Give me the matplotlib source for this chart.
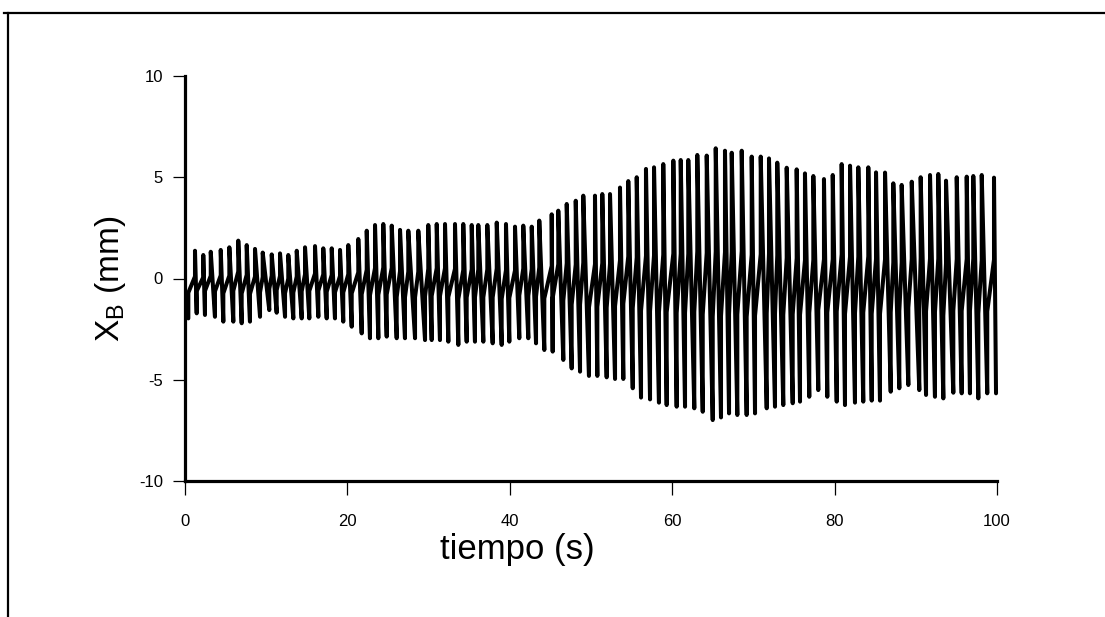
import numpy as np
import matplotlib
matplotlib.use("Agg")
import matplotlib.pyplot as plt
from matplotlib.lines import Line2D

plt.rcParams['font.family'] = ['Liberation Sans', 'DejaVu Sans']
plt.rcParams['mathtext.default'] = 'regular'

# ---- data (time in s, X_B in mm) ----
# local maxima of the trace
t_top = [1.23, 2.25, 3.17, 4.40, 5.46, 6.56, 7.60, 8.62, 9.57, 10.68,
         11.70, 12.72, 13.76, 14.78, 16.01, 17.03, 18.07, 19.09, 20.11, 21.34,
         22.38, 23.40, 24.42, 25.46, 26.48, 27.50, 28.73, 29.96, 31.00, 32.02,
         33.25, 34.27, 35.31, 36.12, 37.23, 38.39, 39.53, 40.64, 41.66, 42.70,
         43.63, 45.16, 45.97, 47.01, 48.12, 49.05, 50.49, 51.39, 52.34, 53.57,
         54.59, 55.63, 56.77, 57.76, 58.90, 60.14, 61.05, 61.98, 63.09, 64.25,
         65.36, 66.50,
         67.33, 68.56, 69.79, 70.90, 71.92, 72.94, 74.10, 75.33, 76.35, 77.38,
         78.69, 79.77, 80.87, 81.90, 82.92, 84.15, 85.10, 86.21, 87.23, 88.26,
         89.50, 90.60, 91.75, 92.77, 93.72, 95.04, 96.27, 97.08, 98.12, 99.63]
x_top = [1.37, 1.16, 1.32, 1.41, 1.54, 1.87, 1.65, 1.46, 1.28, 1.19,
         1.24, 1.16, 1.37, 1.54, 1.60, 1.49, 1.49, 1.41, 1.65, 1.95,
         2.36, 2.64, 2.69, 2.61, 2.40, 2.36, 2.36, 2.64, 2.69, 2.69,
         2.69, 2.69, 2.64, 2.64, 2.64, 2.76, 2.69, 2.56, 2.61, 2.56,
         2.86, 3.17, 3.35, 3.68, 3.84, 4.09, 4.09, 4.17, 4.17, 4.49,
         4.81, 5.00, 5.41, 5.49, 5.65, 5.82, 5.85, 5.85, 6.10, 6.07,
         6.43, 6.31,
         6.21, 6.31, 6.02, 6.02, 5.93, 5.72, 5.47, 5.39, 5.19, 5.06,
         4.91, 5.11, 5.65, 5.57, 5.49, 5.49, 5.24, 5.23, 4.70, 4.62,
         4.78, 5.00, 5.11, 5.16, 4.83, 5.00, 5.03, 5.06, 5.11, 4.98]
# local minima of the trace
t_bot = [0.41, 1.44, 2.46, 3.69, 4.72, 5.95, 6.98, 8.00, 9.24, 10.38,
         11.29, 12.32, 13.34, 14.37, 15.31, 16.42, 17.45, 18.47, 19.49, 20.53,
         21.76, 22.78, 23.81, 24.84, 26.07, 27.09, 28.33, 29.56, 30.38, 31.40,
         32.43,
         33.66, 34.69, 35.71, 36.74, 37.89, 39.00, 39.94, 41.17, 42.28, 43.23,
         44.25, 45.28, 46.59, 47.62, 48.65, 49.75, 50.78, 51.93, 52.96, 53.98,
         55.14, 56.16, 57.27, 58.37, 59.32, 60.55, 61.58, 62.72, 63.76, 64.99,
         66.01, 67.00,
         68.02, 69.17, 70.20, 71.64, 72.66, 73.68, 74.84, 75.74, 76.88, 77.99,
         79.10, 80.26, 81.28, 82.51, 83.53, 84.57, 85.59, 86.91, 87.97, 89.08,
         90.43, 91.26, 92.36, 93.39, 94.62, 95.65, 96.67, 97.70, 98.80, 99.88]
x_bot = [-1.97, -1.72, -1.80, -1.89, -2.13, -2.13, -2.21, -2.13, -1.89, -1.56,
         -1.69, -1.89, -1.97, -1.97, -1.97, -1.89, -1.97, -1.97, -2.13, -2.38,
         -2.71, -2.95, -2.95, -2.87, -2.95, -2.95, -2.95, -3.04, -3.04, -3.04,
         -3.12,
         -3.28, -3.12, -3.12, -3.12, -3.20, -3.28, -3.12, -2.95, -2.95, -3.20,
         -3.53, -3.61, -4.02, -4.44, -4.60, -4.81, -4.81, -4.88, -4.96, -4.96,
         -5.42, -5.88, -5.97, -6.13, -6.25, -6.33, -6.33, -6.41, -6.58, -6.99,
         -6.86, -6.66,
         -6.74, -6.74, -6.66, -6.41, -6.33, -6.25, -6.16, -6.08, -5.84, -5.51,
         -5.84, -6.08, -6.25, -6.13, -6.08, -6.03, -6.03, -5.59, -5.42, -5.26,
         -5.51, -5.75, -5.84, -5.92, -5.64, -5.67, -5.67, -5.92, -5.67, -5.67]

x_ticks = [0, 20, 40, 60, 80, 100]
y_ticks = [-10, -5, 0, 5, 10]
x_label = "tiempo (s)"
y_label = r"$X_B$ (mm)"

# ---- build the trace: minimum -> (kinked rise) -> maximum -> minimum ... ----
tt, xx = [], []
for k in range(len(t_top)):
    tb, vb = t_bot[k], x_bot[k]
    tp, vp = t_top[k], x_top[k]
    mid = 0.5 * (vb + vp)
    h = 0.12 * (vp - vb)
    tt += [tb, tb, tp, tp]
    xx += [vb, mid - h, mid + h, vp]
tt.append(t_bot[-1])
xx.append(x_bot[-1])

fig = plt.figure(figsize=(11.05, 6.17), dpi=100)
ax = fig.add_axes([185 / 1105, 1 - 481 / 617, (997 - 185) / 1105, (481 - 76) / 617])

ax.plot(tt, xx, color='black', lw=2.9, solid_joinstyle='round',
        solid_capstyle='round', clip_on=False)

ax.set_xlim(0, 100)
ax.set_ylim(-10, 10)
ax.set_xticks(x_ticks)
ax.set_yticks(y_ticks)
ax.set_xticklabels([str(v) for v in x_ticks])
ax.set_yticklabels([str(v) for v in y_ticks])

for s in ['top', 'right']:
    ax.spines[s].set_visible(False)
for s in ['left', 'bottom']:
    ax.spines[s].set_linewidth(2.3)
    ax.spines[s].set_color('black')

ax.tick_params(axis='x', direction='out', length=10, width=0.9, pad=14,
               labelsize=12, colors='black')
ax.tick_params(axis='y', direction='out', length=9, width=0.9, pad=7,
               labelsize=12, colors='black')

ax.set_xlabel(x_label, fontsize=25)
ax.xaxis.set_label_coords((517 - 185) / 812, -(533 - 481) / 405, transform=ax.transAxes)
ax.xaxis.label.set_verticalalignment('top')
ax.set_ylabel(y_label, fontsize=24)
ax.yaxis.set_label_coords(-(185 - 128) / 812, 0.5, transform=ax.transAxes)

# outer frame lines (top and left)
fig.add_artist(Line2D([4 / 1105, 1.0], [1 - 12.5 / 617, 1 - 12.5 / 617],
                      transform=fig.transFigure, color='black', lw=1.6))
fig.add_artist(Line2D([7.5 / 1105, 7.5 / 1105], [0.0, 1 - 12.5 / 617],
                      transform=fig.transFigure, color='black', lw=1.6))

fig.savefig("out.png", dpi=100, facecolor='white')
